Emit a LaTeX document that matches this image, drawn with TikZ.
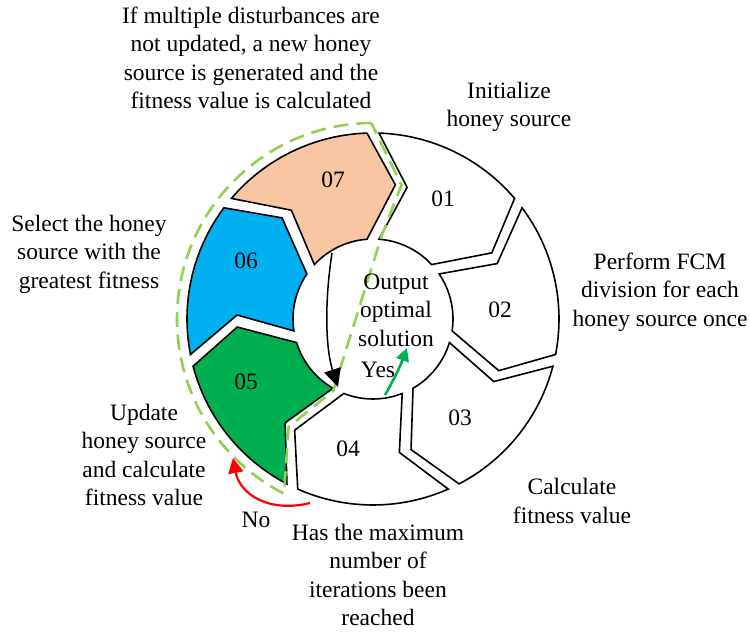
\documentclass[tikz,border=0pt]{standalone}
\usepackage{fontspec}
\setmainfont{Liberation Serif}
\usetikzlibrary{arrows.meta}
\definecolor{peach}{HTML}{F8C6A2}
\definecolor{skyblue}{HTML}{00B0F0}
\definecolor{leafgreen}{HTML}{00B050}
\definecolor{dashgreen}{HTML}{92D050}

\begin{document}
\begin{tikzpicture}[x=1pt,y=1pt,
  seg/.style={draw=black, line width=1.6pt, line join=miter},
  lbl/.style={font=\fontsize{23.5}{28.5}\selectfont, align=center, inner sep=0pt},
  num/.style={font=\fontsize{23.5}{28}\selectfont, inner sep=0pt},
  loopline/.style={dashgreen, line width=2.6pt, dash pattern=on 15pt off 8pt},
]
\useasboundingbox (0,0) rectangle (750,635);

% ring geometry: outer, point and inner radii; half-gap angles; point offset
\def\Ro{186}\def\Rm{136}\def\Ri{80}
\def\go{1.85}\def\gm{2.53}\def\gi{4.3}\def\dd{12}

\begin{scope}[shift={(373,316)}]
  \foreach \k/\col in {1/white, 2/white, 3/white, 4/white, 5/leafgreen, 6/skyblue, 7/peach} {
    \pgfmathsetmacro\sa{90-(\k-1)*360/7}
    \pgfmathsetmacro\sb{\sa-360/7}
    \pgfmathsetmacro\oa{\sa-\go}\pgfmathsetmacro\ob{\sb+\go}
    \pgfmathsetmacro\ma{\sa-\dd-\gm}\pgfmathsetmacro\mb{\sb-\dd+\gm}
    \pgfmathsetmacro\ia{\sa-\gi}\pgfmathsetmacro\ib{\sb+\gi}
    \draw[seg, fill=\col] (\oa:\Ro) arc[start angle=\oa, end angle=\ob, radius=\Ro]
      -- (\mb:\Rm) -- (\ib:\Ri) arc[start angle=\ib, end angle=\ia, radius=\Ri]
      -- (\ma:\Rm) -- cycle;
  }
  % dashed loop around steps 05-07
  \draw[loopline] (90.5:196) arc[start angle=90.5, end angle=243, radius=196]
    -- (232:137) -- (241:82) -- (84:84) -- (78:137) -- cycle;
\end{scope}

% step numbers
\node[num] (n01) at (443,436) {01};
\node[num] (n02) at (500,325) {02};
\node[num] (n03) at (460,217) {03};
\node[num] (n04) at (348,186) {04};
\node[num] (n05) at (246,253) {05};
\node[num] (n06) at (246,374) {06};
\node[num] (n07) at (333,455) {07};

% descriptions
\node[lbl] (t07) at (251,577) {If multiple disturbances are\\not updated, a new honey\\source is generated and the\\fitness value is calculated};
\node[lbl] (t01) at (509,528) {Initialize\\honey source};
\node[lbl] (t02) at (660,343) {Perform FCM\\division for each\\honey source once};
\node[lbl] (t03) at (572,134) {Calculate\\fitness value};
\node[lbl] (t04) at (378,60) {Has the maximum\\number of\\iterations been\\reached};
\node[lbl] (t05) at (144,180) {Update\\honey source\\and calculate\\fitness value};
\node[lbl] (t06) at (89,381) {Select the honey\\source with the\\greatest fitness};
\node[lbl] (out) at (396,325) {Output\\optimal\\solution};
\node[lbl] (yes) at (378,265) {Yes};
\node[lbl] (no) at (256,115) {No};

% decision arrows
\coordinate (bk1) at (332,382);
\coordinate (bk2) at (338,248);
\draw[line width=1.5pt, -{Triangle[length=18pt,width=17pt]}] (bk1) .. controls (324,330) and (326,285) .. (bk2);
\coordinate (gy1) at (385,240);
\coordinate (gy2) at (407,287);
\draw[leafgreen, line width=2.6pt, -{Triangle[length=13pt,width=13pt]}] (gy1) .. controls (392,252) and (400,268) .. (gy2);
\coordinate (rn1) at (310,132);
\coordinate (rn2) at (233,177);
\draw[red, line width=2.2pt, -{Triangle[length=15pt,width=15pt]}] (rn1) .. controls (270,122) and (240,140) .. (rn2);
\end{tikzpicture}
\end{document}
